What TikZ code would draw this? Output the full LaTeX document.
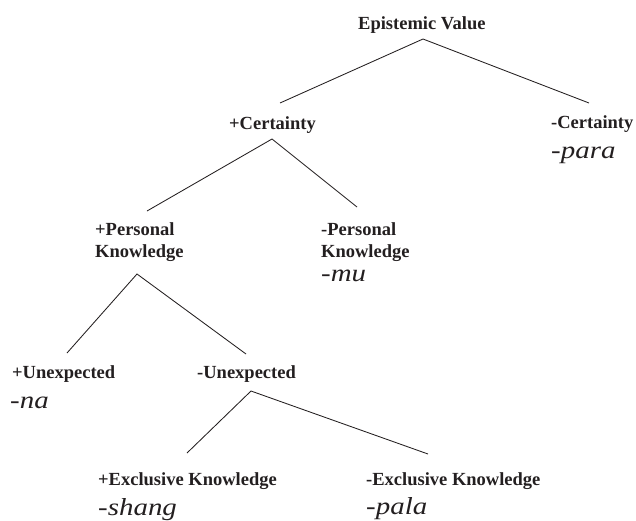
\documentclass[tikz,border=0pt]{standalone}
\usepackage{fontspec}
\setmainfont{Liberation Serif}
\definecolor{ink}{HTML}{231F20}
\newcommand{\twolines}[2]{\vtop{\baselineskip=22.5pt\lineskiplimit=-20pt\hbox{#1}\hbox{#2}}}
\begin{document}
\begin{tikzpicture}[x=1pt,y=-1pt,
  feat/.style={anchor=base west,inner sep=0pt,text=ink,font=\bfseries\fontsize{18.5}{22.5}\selectfont},
  morph/.style={anchor=base west,inner sep=0pt,text=ink,xscale=1.18,font=\itshape\fontsize{24.5}{28}\selectfont},
  branch/.style={draw=ink,line width=0.85pt}]
\useasboundingbox (0,0) rectangle (636,520);
% feature labels
\node[feat] (ev) at (358,29) {Epistemic Value};
\node[feat] (pc) at (229,129) {+Certainty};
\node[feat] (mc) at (551,128) {-Certainty};
\node[feat] (ppk) at (95,235) {\twolines{+Personal}{Knowledge}};
\node[feat] (mpk) at (321,235) {\twolines{-Personal}{Knowledge}};
\node[feat] (pu) at (12,378) {+Unexpected};
\node[feat] (mu) at (197,378) {-Unexpected};
\node[feat] (pek) at (98,485) {+Exclusive Knowledge};
\node[feat] (mek) at (366,485) {-Exclusive Knowledge};
% morphemes
\node[morph] (para) at (551,158) {-para};
\node[morph] (mmu) at (321,281) {-mu};
\node[morph] (na) at (10,408) {-na};
\node[morph] (shang) at (98,515) {-shang};
\node[morph] (pala) at (366,514) {-pala};
% branch points
\coordinate (evt) at (423,39);
\coordinate (pct) at (280,103);
\coordinate (mct) at (589,103);
\coordinate (pcb) at (272,139);
\coordinate (ppkt) at (147,211);
\coordinate (mpkt) at (357,207);
\coordinate (ppkb) at (137,274);
\coordinate (put) at (67,353);
\coordinate (mut) at (246,354);
\coordinate (mub) at (251,391);
\coordinate (pekt) at (187,453);
\coordinate (mekt) at (428,454);
% connectors
\draw[branch] (pct) -- (evt) -- (mct);
\draw[branch] (ppkt) -- (pcb) -- (mpkt);
\draw[branch] (put) -- (ppkb) -- (mut);
\draw[branch] (pekt) -- (mub) -- (mekt);
\end{tikzpicture}
\end{document}
